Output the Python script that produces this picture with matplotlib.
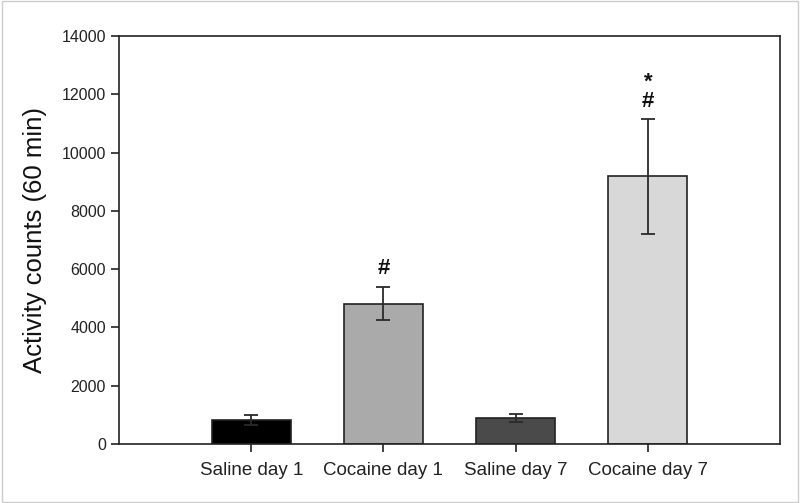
import matplotlib
matplotlib.use("Agg")
import matplotlib.pyplot as plt
from matplotlib.patches import Rectangle

plt.rcParams['font.family'] = ['Liberation Sans', 'DejaVu Sans']

categories = ["Saline day 1", "Cocaine day 1", "Saline day 7", "Cocaine day 7"]
means = [820, 4820, 900, 9180]
sems = [170, 580, 140, 1960]
colors = ["#000000", "#aaaaaa", "#4a4a4a", "#d8d8d8"]
annotations = ["", "#", "", "*\n#"]
yticks = [0, 2000, 4000, 6000, 8000, 10000, 12000, 14000]

fig = plt.figure(figsize=(8.0, 5.03), dpi=100)
ax = fig.add_axes([119/800, 1 - 444/503, (780-119)/800, (444-36)/503])

x = [1, 2, 3, 4]
ax.bar(x, means, width=0.6, color=colors, edgecolor="#222222", linewidth=1.2, zorder=2)
ax.errorbar(x, means, yerr=sems, fmt="none", ecolor="#2a2a2a", elinewidth=1.3,
            capsize=5, capthick=1.3, zorder=3)

for xi, m, s, a in zip(x, means, sems, annotations):
    if a:
        ax.text(xi, m + s + 250, a, ha="center", va="bottom", fontsize=16,
                fontweight="bold", color="#111111", linespacing=0.9)

ax.set_xlim(0, 5)
ax.set_ylim(0, 14000)
ax.set_yticks(yticks)
ax.set_yticklabels([str(v) for v in yticks], fontsize=11.5, color="#222222")
ax.set_xticks(x)
ax.set_xticklabels(categories, fontsize=13.5, color="#222222")
ax.tick_params(axis="both", direction="out", length=6, width=1.2, color="#222222")
ax.tick_params(axis="x", pad=7)
ax.set_ylabel("Activity counts (60 min)", fontsize=18.5, color="#111111", labelpad=10)
for sp in ax.spines.values():
    sp.set_linewidth(1.2)
    sp.set_color("#222222")

fig.patches.append(Rectangle((0.002, 0.002), 0.996, 0.996, transform=fig.transFigure,
                             fill=False, edgecolor="#cccccc", linewidth=1))

fig.savefig("out.png", dpi=100)
